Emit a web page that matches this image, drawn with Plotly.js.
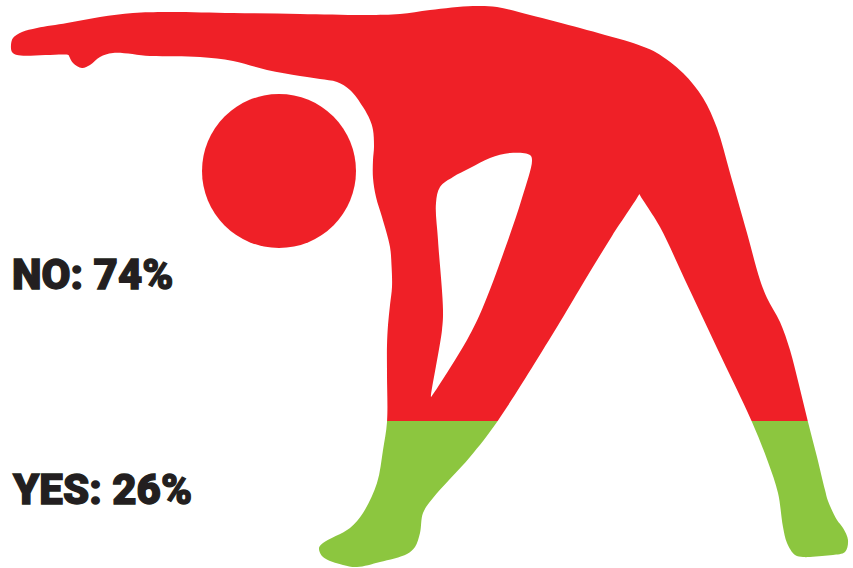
<!DOCTYPE html>
<html>
<head>
<meta charset="utf-8">
<script src="https://cdn.plot.ly/plotly-3.0.1.min.js"></script>
<style>
html,body{margin:0;padding:0;background:#fff}
#chart{width:853px;height:568px}
/* heavier lettering for the two result labels */
.annotation-text{stroke:#231f20;stroke-width:1.3px;paint-order:stroke}
</style>
</head>
<body>
<div id="chart"></div>
<script>
// Survey result
const answers = ['NO', 'YES'];
const shares = [74, 26];
const answerColors = ['#ef2027', '#8cc63f'];

// Stretching figure, outline in drawing units (y grows downward)
const bodyX = [11,13,22,37,67,100,133,167,233,300,367,400,430,473,497,530,580,605,630,644,657,683,703,717,730,747,760,767,780,790,799,808,817,825,828,837,843,848,845,833,822,810,803,795,787,783,778,768,752,717,685,660,639,639.6,612,585,560,497,470,433,423,420,415,407,380,357,343,323,319,323,350,363,377,383,387,387,387,388,390,392,391.5,390,382,376,373,373,374,373,370,363,350,337,320,300,267,233,200,150,113,100,90,82,73,69,68.5,17,12,11];
const bodyY = [45,38,32,28,23,17,13,12,13,14,15,14,10,6,7,15,28,35,42,47,53,73,98,128,173,233,280,298,322,350,385,422,457,490,501,520,528,540,552,555,556,557,557,555,543,527,493,462,422,348,280,227,193,193,236,280,322,422,457,498,513,533,547,554,562,567,565,557,548,543,528,513,483,450,422,375,345,325,305,287,265,247,217,197,178,160,147,130,120,107,90,82,79,76,70,61,57,56,53,57,65,68,63,56,55,55,52,45];

// Gap between the bent arm and the torso
const gapX = [431,431.5,467,483,507,522,532,530,510,490,470,453,440,436,438,443,442,431];
const gapY = [397,396.5,340,307,243,198,160,155,153,158,168,177,187,203,240,310,330,397];

// Head
const headX = [279];
const headY = [171];
const headDiameter = 154;

const outlineX = bodyX.concat([null], gapX);
const outlineY = bodyY.concat([null], gapY);

// The figure is filled from the top down: the first share sets where the colours change
const figureTop = Math.min(...bodyY);
const figureBottom = Math.max(...bodyY);
const level = Math.round(figureTop + (figureBottom - figureTop) * shares[0] / 100);
const canvasW = 853, canvasH = 568;
const split = 1 - level / canvasH;

const silhouette = (i, yaxis) => ({
  type: 'scatter', mode: 'lines', name: answers[i], xaxis: 'x', yaxis,
  x: outlineX, y: outlineY, fill: 'toself', fillcolor: answerColors[i],
  line: {shape: 'spline', smoothing: 1, simplify: false, width: 0, color: answerColors[i]},
  hoverinfo: 'name'
});

const traces = [
  silhouette(0, 'y'),
  silhouette(1, 'y2'),
  {type: 'scatter', mode: 'markers', name: answers[0], x: headX, y: headY, xaxis: 'x', yaxis: 'y',
   marker: {size: headDiameter, color: answerColors[0], line: {width: 0}}, hoverinfo: 'name'}
];

const hidden = {visible: false, fixedrange: true};
const labelFont = {family: 'Roboto, sans-serif', size: 42, weight: 900, color: '#231f20'};
const label = (i, yref, y) => ({
  text: answers[i] + ': ' + shares[i] + '%', xref: 'x', yref, x: 9.5, y,
  xanchor: 'left', yanchor: 'middle', showarrow: false, font: labelFont
});

const layout = {
  width: canvasW, height: canvasH, showlegend: false,
  margin: {l: 0, r: 0, t: 0, b: 0},
  paper_bgcolor: '#fff', plot_bgcolor: 'rgba(0,0,0,0)',
  xaxis: {...hidden, range: [0, canvasW], domain: [0, 1]},
  yaxis: {...hidden, range: [level, 0], domain: [split, 1]},
  yaxis2: {...hidden, range: [canvasH, level], domain: [0, split]},
  annotations: [label(0, 'y', 274), label(1, 'y2', 489)]
};

Plotly.newPlot('chart', traces, layout, {displayModeBar: false, responsive: false});
</script>
</body>
</html>
